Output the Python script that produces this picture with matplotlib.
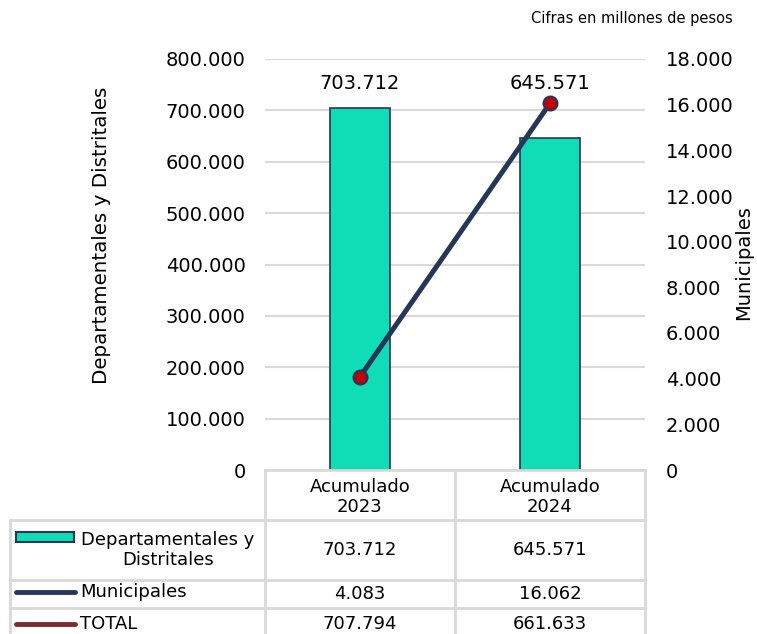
import matplotlib
matplotlib.use("Agg")
import matplotlib.pyplot as plt
from matplotlib.patches import Rectangle
from matplotlib.lines import Line2D

categories = ["Acumulado\n2023", "Acumulado\n2024"]
dept = [703712, 645571]
muni = [4083, 16062]
total = [707794, 661633]
row_labels = ["Departamentales y\nDistritales", "Municipales", "TOTAL"]

TEAL = "#10dcb5"
NAVY = "#263659"
RED = "#c00000"
MAROON = "#7b2c2c"
GRID = "#d9d9d9"


def fmt(v):
    return f"{v:,.0f}".replace(",", ".")


W, H = 757, 634
fig = plt.figure(figsize=(W / 100, H / 100), dpi=100)
plt.rcParams["font.family"] = "DejaVu Sans"


def fx(px):
    return px / W


def fy(py):
    return 1 - py / H


x0, x1, ytop, ybot = 265, 645, 59, 470
ax = fig.add_axes([fx(x0), fy(ybot), fx(x1) - fx(x0), fy(ytop) - fy(ybot)])
xs = list(range(len(categories)))
ax.bar(xs, dept, width=0.32, color=TEAL, edgecolor=NAVY, linewidth=1.2, zorder=2)
ax.set_xlim(-0.5, len(categories) - 0.5)
ax.set_ylim(0, 800000)
ax.set_yticks(range(0, 800001, 100000))
ax.set_yticklabels([fmt(v) for v in range(0, 800001, 100000)], fontsize=14)
ax.set_xticks([])
ax.yaxis.grid(True, color=GRID, linewidth=1.5, zorder=0)
ax.set_axisbelow(True)
ax.tick_params(axis="y", length=0, pad=14)
for s in ax.spines.values():
    s.set_visible(False)
ax.set_ylabel("Departamentales y Distritales", fontsize=14.3)
ax.yaxis.set_label_coords(-0.405, 0.572)

for x, v in zip(xs, dept):
    ax.text(x, 753000, fmt(v), ha="center", va="center", fontsize=14)

ax2 = ax.twinx()
ax2.plot(xs, muni, color=NAVY, linewidth=3.6, marker="o", markersize=10,
         markerfacecolor=RED, markeredgecolor=NAVY, markeredgewidth=1.5, zorder=3)
ax2.set_ylim(0, 18000)
ax2.set_yticks(range(0, 18001, 2000))
ax2.set_yticklabels([fmt(v) for v in range(0, 18001, 2000)], fontsize=14)
ax2.tick_params(axis="y", length=0, pad=15)
for s in ax2.spines.values():
    s.set_visible(False)
ax2.set_ylabel("Municipales", fontsize=14)
ax2.yaxis.set_label_coords(1.235, 0.505)

fig.text(fx(733), fy(18), "Cifras en millones de pesos", ha="right", va="center", fontsize=10.5)

# data table below the chart
col_edges = [x0, 455, x1]
row_edges = [ybot, 520, 580, 608, 640]
lw = 2
for cx in col_edges:
    fig.add_artist(Line2D([fx(cx), fx(cx)], [fy(row_edges[0]), fy(row_edges[-1])], color=GRID, lw=lw))
fig.add_artist(Line2D([fx(x0), fx(x1)], [fy(ybot), fy(ybot)], color=GRID, lw=lw))
fig.add_artist(Line2D([fx(10), fx(10)], [fy(row_edges[1]), fy(row_edges[-1])], color=GRID, lw=lw))
for ry in row_edges[1:-1]:
    fig.add_artist(Line2D([fx(10), fx(x1)], [fy(ry), fy(ry)], color=GRID, lw=lw))

for i, c in enumerate(categories):
    cx = (col_edges[i] + col_edges[i + 1]) / 2
    fig.text(fx(cx), fy(497), c, ha="center", va="center", fontsize=13, linespacing=1.15)

rows = [dept, muni, total]
for r, vals in enumerate(rows):
    cy = (row_edges[r + 1] + row_edges[r + 2]) / 2
    if r == 2:
        cy = 624
    for i, v in enumerate(vals):
        cx = (col_edges[i] + col_edges[i + 1]) / 2
        fig.text(fx(cx), fy(cy), fmt(v), ha="center", va="center", fontsize=13)

# legend keys in the label column
fig.add_artist(Rectangle((fx(16), fy(542)), fx(74) - fx(16), fy(532) - fy(542),
                         facecolor=TEAL, edgecolor=NAVY, lw=1.5))
fig.text(fx(168), fy(550), row_labels[0], ha="center", va="center", fontsize=13, linespacing=1.1)
fig.add_artist(Line2D([fx(16), fx(75)], [fy(592), fy(592)], color=NAVY, lw=3.5, solid_capstyle="round"))
fig.text(fx(80), fy(592), row_labels[1], ha="left", va="center", fontsize=13)
fig.add_artist(Line2D([fx(16), fx(75)], [fy(624), fy(624)], color=MAROON, lw=3.5, solid_capstyle="round"))
fig.text(fx(80), fy(624), row_labels[2], ha="left", va="center", fontsize=13)

fig.savefig("out.png", dpi=100)
